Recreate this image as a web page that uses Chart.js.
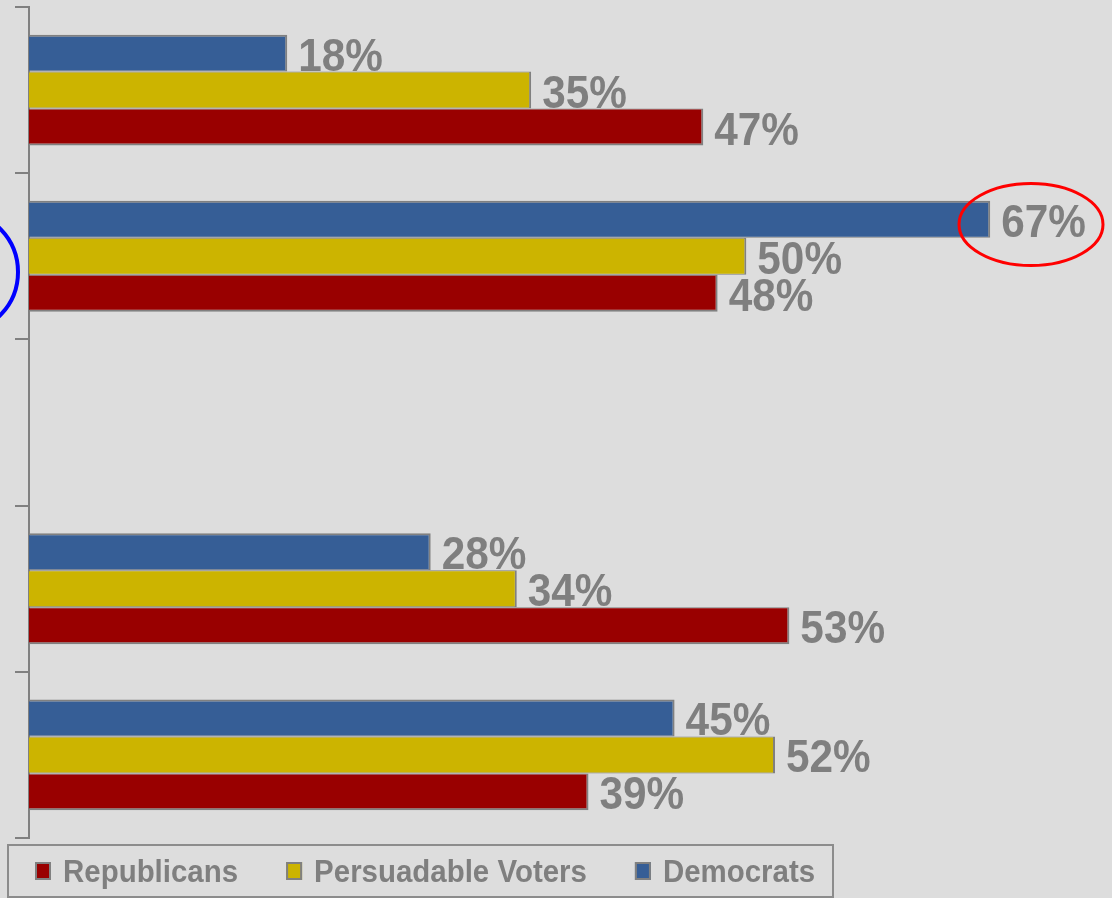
<!DOCTYPE html>
<html>
<head>
<meta charset="utf-8">
<script src="https://cdn.jsdelivr.net/npm/chart.js@4/dist/chart.umd.min.js"></script>
<style>
  html, body { margin: 0; padding: 0; background: #dddddd; }
  canvas { display: block; }
</style>
</head>
<body>
<canvas id="c" width="1112" height="898"></canvas>
<script>
// ---- data ----
const categories = ['', '', '', '', ''];
const seriesNames = ['Democrats', 'Persuadable Voters', 'Republicans'];
const democrats = [18, 67, null, 28, 45];
const persuadable = [35, 50, null, 34, 52];
const republicans = [47, 48, null, 53, 39];
const seriesColors = ['#365e96', '#ccb400', '#990000'];

const GRAY = '#808080';
const FONT = '"Liberation Sans", Arial, sans-serif';

const bgPlugin = {
  id: 'bg',
  beforeDraw(chart) {
    const ctx = chart.ctx;
    ctx.save();
    ctx.fillStyle = '#dddddd';
    ctx.fillRect(0, 0, chart.width, chart.height);
    ctx.restore();
  }
};

const labelPlugin = {
  id: 'valueLabels',
  afterDatasetsDraw(chart) {
    const ctx = chart.ctx;
    const size = 46;
    const capH = size * 0.716;
    ctx.save();
    ctx.fillStyle = '#7f7f7f';
    ctx.font = 'bold ' + size + 'px ' + FONT;
    ctx.textAlign = 'left';
    ctx.textBaseline = 'alphabetic';
    chart.data.datasets.forEach((ds, di) => {
      const meta = chart.getDatasetMeta(di);
      meta.data.forEach((el, i) => {
        const v = ds.data[i];
        if (v === null || v === undefined) return;
        ctx.save();
        ctx.translate(el.x + 11, el.y + capH / 2 + 1);
        ctx.scale(0.92, 1);
        ctx.fillText(v + '%', 0, 0);
        ctx.restore();
      });
    });
    ctx.restore();
  }
};

const legendPlugin = {
  id: 'boxLegend',
  afterDraw(chart) {
    const ctx = chart.ctx;
    ctx.save();
    ctx.strokeStyle = '#8c8c8c';
    ctx.lineWidth = 2;
    ctx.strokeRect(8, 845, 825, 52);
    const size = 31, sx = 0.95;
    ctx.font = 'bold ' + size + 'px ' + FONT;
    ctx.textBaseline = 'alphabetic';
    let x = 35;
    const items = chart.data.datasets.map((d, i) => i).reverse();
    items.forEach(i => {
      const ds = chart.data.datasets[i];
      ctx.fillStyle = ds.backgroundColor;
      ctx.fillRect(x, 862, 16, 18);
      ctx.strokeStyle = GRAY;
      ctx.lineWidth = 2;
      ctx.strokeRect(x + 1, 863, 14, 16);
      ctx.fillStyle = '#7f7f7f';
      const tx = x + 28;
      ctx.save();
      ctx.translate(tx, 882);
      ctx.scale(sx, 1);
      ctx.fillText(ds.label, 0, 0);
      ctx.restore();
      const w = ctx.measureText(ds.label).width * sx;
      x = tx + w + 48;
    });
    ctx.strokeStyle = '#ff0000';
    ctx.lineWidth = 3;
    ctx.beginPath();
    ctx.ellipse(1031, 224.5, 72, 41, 0, 0, Math.PI * 2);
    ctx.stroke();
    ctx.strokeStyle = '#0000ff';
    ctx.lineWidth = 4;
    ctx.beginPath();
    ctx.ellipse(-40, 272, 58, 60, 0, 0, Math.PI * 2);
    ctx.stroke();
    ctx.restore();
  }
};

const seriesData = [democrats, persuadable, republicans];
const borderWidths = [
  { top: 2, bottom: 1, right: 2, left: 0 },
  { top: 1, bottom: 1, right: 2, left: 0 },
  { top: 1, bottom: 2, right: 2, left: 0 }
];

new Chart(document.getElementById('c'), {
  type: 'bar',
  data: {
    labels: categories,
    datasets: seriesData.map((d, i) => ({
      label: seriesNames[i],
      data: d,
      backgroundColor: seriesColors[i],
      borderColor: GRAY,
      borderWidth: borderWidths[i],
      borderSkipped: false,
      categoryPercentage: 0.667,
      barPercentage: 1.0
    }))
  },
  options: {
    indexAxis: 'y',
    responsive: false,
    devicePixelRatio: 1,
    animation: false,
    layout: { padding: { top: 7, bottom: 60, left: 0, right: 7 } },
    plugins: {
      legend: { display: false },
      tooltip: { enabled: false }
    },
    scales: {
      x: { display: false, min: 0, max: 75 },
      y: {
        type: 'category',
        offset: true,
        grid: {
          offset: true,
          drawOnChartArea: false,
          drawTicks: true,
          tickLength: 14,
          color: GRAY,
          lineWidth: 2,
          tickWidth: 2,
          tickColor: GRAY
        },
        border: { display: true, color: GRAY, width: 2 },
        ticks: { display: false },
        afterFit(scale) { scale.width = 29; }
      }
    }
  },
  plugins: [bgPlugin, labelPlugin, legendPlugin]
});
</script>
</body>
</html>
